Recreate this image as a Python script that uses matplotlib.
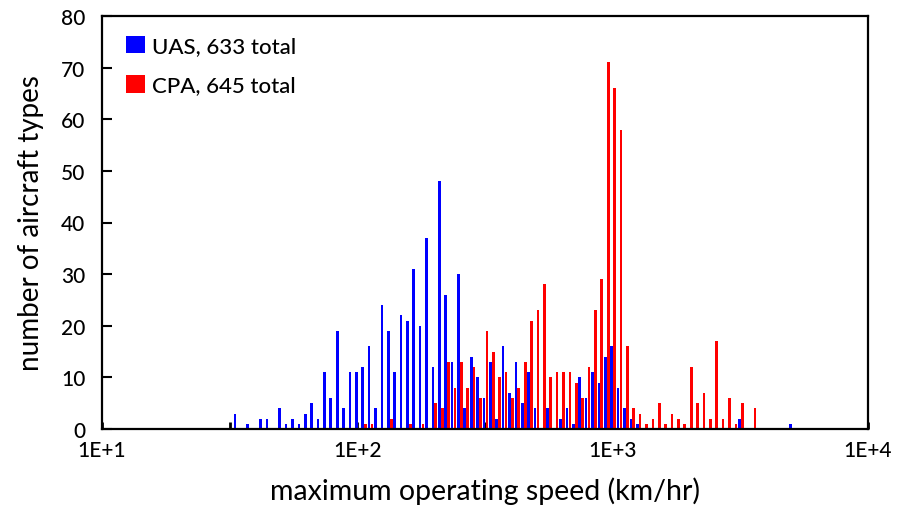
import numpy as np
import matplotlib
matplotlib.use("Agg")
import matplotlib.pyplot as plt
from matplotlib.ticker import FixedLocator, FixedFormatter

plt.rcParams['font.family'] = ['Lato', 'DejaVu Sans']
plt.rcParams['font.weight'] = 'medium'

# bin centres (km/hr), 40 log bins per decade
speed_bins = [33.50, 37.58, 42.17, 44.67, 50.12, 53.09, 56.23, 59.57, 63.10, 66.83,
              70.79, 74.99, 79.43, 84.14, 89.13, 94.41, 100.0, 105.9, 112.2, 118.9,
              125.9, 133.4, 141.3, 149.6, 158.5, 167.9, 177.8, 188.4, 199.5, 211.3,
              223.9, 237.1, 251.2, 266.1, 281.8, 298.5, 316.2, 335.0, 354.8, 375.8,
              398.1, 421.7, 446.7, 473.2, 501.2, 530.9, 562.3, 595.7, 631.0, 668.3,
              707.9, 749.9, 794.3, 841.4, 891.3, 944.1, 1000, 1059, 1122, 1189,
              1259, 1334, 1413, 1496, 1585, 1679, 1778, 1884, 1995, 2113,
              2239, 2371, 2512, 2661, 2818, 2985, 3162, 3548, 5012]
uas_counts = [3, 1, 2, 2, 4, 1, 2, 1, 3, 5,
              2, 11, 6, 19, 4, 11, 11, 12, 16, 4,
              24, 19, 11, 22, 21, 31, 20, 37, 12, 48,
              26, 13, 30, 4, 14, 10, 6, 13, 2, 16,
              7, 13, 5, 11, 4, 0, 4, 0, 2, 4,
              1, 10, 6, 11, 9, 14, 16, 8, 4, 2,
              1, 0, 0, 0, 0, 0, 0, 0, 0, 0,
              0, 0, 0, 0, 0, 0, 2, 0, 1]
cpa_counts = [0, 0, 0, 0, 0, 0, 0, 0, 0, 0,
              0, 0, 0, 0, 0, 0, 0, 1, 1, 0,
              0, 2, 0, 0, 1, 0, 1, 0, 5, 4,
              13, 8, 13, 8, 12, 6, 19, 15, 10, 11,
              6, 8, 13, 21, 23, 28, 10, 11, 11, 11,
              9, 6, 12, 23, 29, 71, 66, 58, 16, 4,
              3, 1, 2, 5, 1, 3, 2, 1, 12, 5,
              7, 2, 17, 2, 6, 1, 5, 4, 0]
series_labels = ["UAS, 633 total", "CPA, 645 total"]
x_tick_values = [10, 100, 1000, 10000]
x_tick_labels = ["1E+1", "1E+2", "1E+3", "1E+4"]
y_ticks = [0, 10, 20, 30, 40, 50, 60, 70, 80]

W, H = 897, 510
fig = plt.figure(figsize=(W / 100, H / 100), dpi=100)
ax = fig.add_axes([102 / W, 1 - 430 / H, (868 - 102) / W, (430 - 17) / H])
ax.set_xscale('log')

lb = np.log10(np.array(speed_bins, dtype=float))
bw = 0.0105  # bar width in decades


def log_bars(center_log, counts, color, label):
    left = 10 ** (center_log - bw / 2)
    right = 10 ** (center_log + bw / 2)
    return ax.bar(left, counts, width=right - left, align='edge', color=color,
                  edgecolor='none', label=label, zorder=2)


b1 = log_bars(lb - 0.004, uas_counts, '#0000ff', series_labels[0])
b2 = log_bars(lb + 0.0075, cpa_counts, '#ff0000', series_labels[1])

ax.set_xlim(10, 10000)
ax.set_ylim(0, 80)

ax.xaxis.set_major_locator(FixedLocator(x_tick_values))
ax.xaxis.set_major_formatter(FixedFormatter(x_tick_labels))
ax.xaxis.set_minor_locator(FixedLocator([10 ** 1.5, 10 ** 2.5, 10 ** 3.5]))
ax.xaxis.set_minor_formatter(FixedFormatter(["", "", ""]))
ax.set_yticks(y_ticks)

ax.tick_params(axis='x', which='both', direction='in', length=5, width=2,
               labelsize=15, pad=8, color='black')
ax.tick_params(axis='y', which='major', direction='in', length=7, width=1.5,
               labelsize=15, pad=12)
ax.tick_params(axis='y', which='minor', left=False)
for s in ax.spines.values():
    s.set_linewidth(1.6)
    s.set_zorder(3)

ax.set_xlabel("maximum operating speed (km/hr)", fontsize=20.5, labelpad=12)
ax.set_ylabel("number of aircraft types", fontsize=20, labelpad=12)

leg = ax.legend(handles=[b1, b2], loc='upper left', frameon=False,
                fontsize=16, handlelength=0.85, handleheight=0.85,
                handletextpad=0.3, labelspacing=0.85,
                bbox_to_anchor=(0.014, 0.985), borderaxespad=0.2)

fig.savefig("out.png", dpi=100)
